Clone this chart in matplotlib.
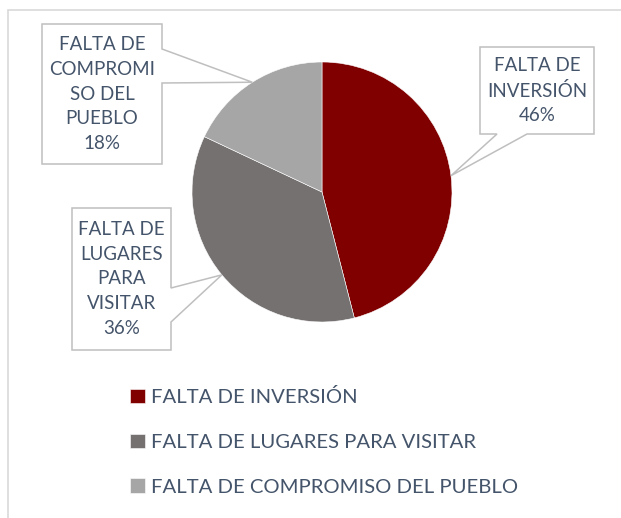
import numpy as np
import matplotlib
matplotlib.use("Agg")
from matplotlib import pyplot as plt
from matplotlib.patches import Polygon, Rectangle

# data
categories = ["FALTA DE INVERSIÓN", "FALTA DE LUGARES PARA VISITAR",
              "FALTA DE COMPROMISO DEL PUEBLO"]
values = [46, 36, 18]
box_texts = ["FALTA DE\nINVERSIÓN", "FALTA DE\nLUGARES\nPARA\nVISITAR",
             "FALTA DE\nCOMPROMI\nSO DEL\nPUEBLO"]
colors = ["#800000", "#767171", "#a6a6a6"]

W, H = 621, 518
TXT = "#44546A"
EDGE = "#bfbfbf"

plt.rcParams['font.family'] = ['Lato', 'DejaVu Sans']


def py(y):
    """pixel row (top origin) -> data y"""
    return H - y


fig = plt.figure(figsize=(W / 100, H / 100), dpi=100)
ax = fig.add_axes([0, 0, 1, 1])

cx, cy, r = 322, 192, 130
wedges, _ = ax.pie(values, colors=colors, startangle=90, counterclock=False,
                   center=(cx, py(cy)), radius=r,
                   wedgeprops=dict(edgecolor='white', linewidth=0.4))
ax.set_xlim(0, W)
ax.set_ylim(0, H)
ax.set_aspect('equal')
ax.axis('off')

# chart border
ax.add_patch(Rectangle((8, py(530)), 640, 520, fill=False,
                       edgecolor="#d9d9d9", linewidth=1.2))

# mid angles of slices -> callout tips
total = sum(values)
cum = np.cumsum([0] + values[:-1])
mids = 90 - 360 * (cum + np.array(values) / 2) / total

# callout boxes: (left, top, right, bottom), pointer base points
boxes = [
    ((480, 47, 594, 134), [(527, 134), (497, 134)]),
    ((72, 208, 171, 350), [(171, 288), (171, 322)]),
    ((42, 24, 162, 164), [(162, 49), (162, 83)]),
]

for i, ((l, t, rr, b), base) in enumerate(boxes):
    tip_x = cx + r * np.cos(np.radians(mids[i]))
    tip_y = py(cy) + r * np.sin(np.radians(mids[i]))
    if i == 0:
        pts = [(l, t), (rr, t), (rr, b), base[0], None, base[1], (l, b)]
    else:
        pts = [(l, t), (rr, t), base[0], None, base[1], (rr, b), (l, b)]
    verts = []
    for p in pts:
        if p is None:
            verts.append((tip_x, tip_y))
        else:
            verts.append((p[0], py(p[1])))
    ax.add_patch(Polygon(verts, closed=True, facecolor='white',
                         edgecolor=EDGE, linewidth=1.1, zorder=3))
    label = f"{box_texts[i]}\n{values[i]}%"
    ax.text((l + rr) / 2, py((t + b) / 2), label, ha='center', va='center',
            fontsize=13.5, color=TXT, linespacing=1.55, zorder=4)

leg = ax.legend(wedges, categories, loc='upper left',
                bbox_to_anchor=(130 / W, 1 - 388 / H), frameon=False,
                fontsize=14.6, handlelength=0.72, handleheight=0.72,
                handletextpad=0.3, labelspacing=1.36, borderpad=0,
                borderaxespad=0)
for t in leg.get_texts():
    t.set_color(TXT)

plt.savefig("out.png", dpi=100)
